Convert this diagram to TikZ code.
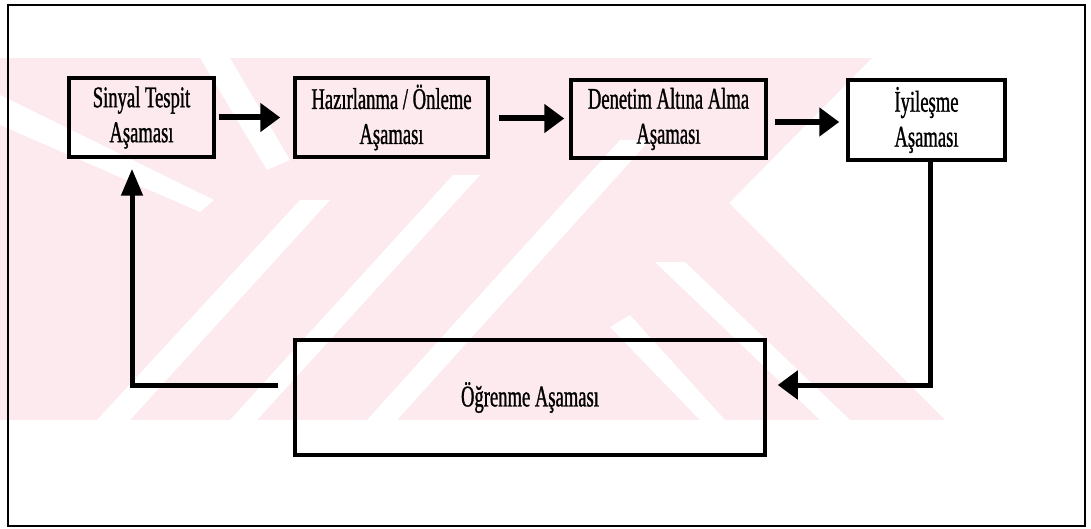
\documentclass[tikz,border=0pt]{standalone}
\usepackage{fontspec}
\newfontfamily\condserif[FakeStretch=0.62,FakeBold=1]{Liberation Serif}
\usetikzlibrary{arrows.meta}
\definecolor{wmpink}{RGB}{252,234,238}
\tikzset{
  stage/.style={draw=black, line width=3.5pt, align=center, inner sep=0pt,
    font=\condserif\fontsize{30}{35}\selectfont},
  flow/.style={line width=6pt, -{Triangle[length=20pt,width=28pt]}},
  back/.style={line width=5pt},
  frame/.style={draw=black, line width=2pt},
  wmwhite/.style={fill=white, draw=none}
}
\begin{document}
\begin{tikzpicture}[x=1pt,y=-1pt]
\useasboundingbox (0,0) rectangle (1091,529);
% watermark (faint)
\begin{scope}
  \clip (0,58) -- (872,58) -- (729,203) -- (945,420) -- (0,420) -- cycle;
  \fill[wmpink] (0,58) rectangle (945,420);
  \fill[wmwhite] (0,95) -- (0,125) -- (200,212) -- (214,200) -- cycle;
  \fill[wmwhite] (200,58) -- (230,58) -- (290,160) -- (267,170) -- cycle;
  \fill[wmwhite] (97,420) -- (130,420) -- (330,200) -- (300,200) -- cycle;
  \fill[wmwhite] (230,420) -- (257,420) -- (480,175) -- (453,175) -- cycle;
  \fill[wmwhite] (367,420) -- (397,420) -- (650,140) -- (620,140) -- cycle;
  \fill[wmwhite] (655,262) -- (685,262) -- (850,420) -- (820,420) -- cycle;
  \fill[wmwhite] (610,327) -- (630,315) -- (725,420) -- (700,420) -- cycle;
\end{scope}
% outer frame
\draw[frame] (8,5) rectangle (1085,526);
% stages
\node[stage, minimum width=145pt, minimum height=79pt] (s1) at (141.5,117.5) {Sinyal Tespit\\Aşaması};
\node[stage, minimum width=193pt, minimum height=79pt] (s2) at (391.5,117.5) {Hazırlanma / Önleme\\Aşaması};
\node[stage, minimum width=195pt, minimum height=78pt] (s3) at (668.5,119) {Denetim Altına Alma\\Aşaması};
\node[stage, minimum width=157pt, minimum height=80pt] (s4) at (926.5,120) {İyileşme\\Aşaması};
\node[stage, minimum width=470pt, minimum height=115pt] (s5) at (530,397.5) {Öğrenme Aşaması};
% forward arrows
\draw[flow, shorten <=3pt, shorten >=13pt] (s1.east) -- (s1.east -| s2.west);
\draw[flow, shorten <=9pt, shorten >=5pt] ([yshift=-1pt]s2.east) -- ([yshift=-1pt]s2.east -| s3.west);
\draw[flow, shorten <=7pt, shorten >=7pt] ([yshift=-3pt]s3.east) -- ([yshift=-3pt]s3.east -| s4.west);
% feedback loop
\coordinate (c4) at ([xshift=3.5pt]s4.south);
\coordinate (r5) at ([xshift=11pt,yshift=12.5pt]s5.east);
\draw[back, -{Triangle[length=20pt,width=28pt]}] (c4) |- (r5);
\coordinate (l5) at ([xshift=-15pt,yshift=12.5pt]s5.west);
\coordinate (b1) at ([xshift=-9.5pt,yshift=-10pt]s1.south);
\draw[back, -{Triangle[length=27pt,width=21pt]}] (l5) -| (b1);
\end{tikzpicture}
\end{document}
